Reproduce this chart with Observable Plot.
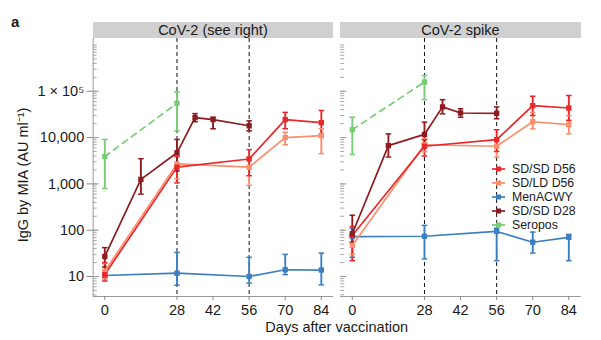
<!DOCTYPE html>
<html>
<head>
<meta charset="utf-8">
<script src="https://cdn.jsdelivr.net/npm/d3@7"></script>
<script src="https://cdn.jsdelivr.net/npm/@observablehq/plot@0.6"></script>
<style>
  html, body { margin: 0; padding: 0; background: #fff; }
  #wrap { position: relative; width: 601px; height: 340px; font-family: "Liberation Sans", Arial, Helvetica, sans-serif; color: #1a1a1a; }
  .ov { position: absolute; white-space: nowrap; }
  .strip { position: absolute; background: #d0d0d0; text-align: center; font-size: 14.5px; line-height: 16px; }
  .leg { position: absolute; font-size: 12.3px; line-height: 14px; }
  .leg div { height: 14px; display: flex; align-items: center; }
  .leg svg { margin-right: 6px; }
</style>
</head>
<body>
<div id="wrap"></div>
<script>
// ---- data ----
const panels = ["CoV-2 (see right)", "CoV-2 spike"];
const seriesNames = ["SD/SD D56", "SD/LD D56", "MenACWY", "SD/SD D28", "Seropos"];
const seriesColors = ["#e8282b", "#fb8e6e", "#3b7fc0", "#8c1c1f", "#78cc74"];
const drawOrder = ["MenACWY", "SD/LD D56", "SD/SD D56", "SD/SD D28", "Seropos"];

const days = {
  "SD/SD D56": [0, 28, 56, 70, 84],
  "SD/LD D56": [0, 28, 56, 70, 84],
  "MenACWY":   [0, 28, 56, 70, 84],
  "SD/SD D28": [0, 14, 28, 35, 42, 56],
  "Seropos":   [0, 28]
};

// panel 1: CoV-2 (see right)
const cov2Mean = {
  "SD/SD D56": [11, 2300, 3450, 24500, 21000],
  "SD/LD D56": [13, 2700, 2300, 10000, 11000],
  "MenACWY":   [10.5, 11.8, 10, 14, 13.8],
  "SD/SD D28": [27, 1250, 4700, 27000, 24500, 18000],
  "Seropos":   [3900, 55000]
};
const cov2Lo = {
  "SD/SD D56": [8, 1050, 1500, 15500, 12000],
  "SD/LD D56": [9, 1300, 930, 7000, 4500],
  "MenACWY":   [9, 6.5, 7.2, 11, 6.6],
  "SD/SD D28": [16, 600, 1900, 22000, 15500, 14000],
  "Seropos":   [800, 14000]
};
const cov2Hi = {
  "SD/SD D56": [20, 3900, 5500, 35000, 38500],
  "SD/LD D56": [19, 4200, 3800, 13000, 15500],
  "MenACWY":   [12, 33, 26, 30, 32],
  "SD/SD D28": [42, 3500, 9100, 33000, 27500, 23000],
  "Seropos":   [9100, 96000]
};

// panel 2: CoV-2 spike
const spikeMean = {
  "SD/SD D56": [77, 6500, 9000, 49000, 43500],
  "SD/LD D56": [47, 7000, 6500, 22000, 19000],
  "MenACWY":   [73, 74, 94, 55, 70],
  "SD/SD D28": [84, 6700, 11700, 46000, 34000, 33500],
  "Seropos":   [14800, 158000]
};
const spikeLo = {
  "SD/SD D56": [22, 4000, 5000, 30000, 23500],
  "SD/LD D56": [30, 5000, 3800, 15500, 12000],
  "MenACWY":   [26, 24, 22, 32, 22],
  "SD/SD D28": [55, 3800, 7400, 32500, 27500, 25500],
  "Seropos":   [4300, 66000]
};
const spikeHi = {
  "SD/SD D56": [120, 9000, 14800, 78000, 81000],
  "SD/LD D56": [75, 9500, 9000, 35000, 30000],
  "MenACWY":   [110, 127, 110, 91, 81],
  "SD/SD D28": [210, 12000, 21500, 66000, 42000, 46000],
  "Seropos":   [27500, 220000]
};

const yMajorTicks = [10, 100, 1000, 10000, 100000];
const yMajorLabels = ["10", "100", "1,000", "10,000", "1 × 10⁵"];
const xTicks = [0, 28, 42, 56, 70, 84];
const vaccinationDays = [28, 56];
const xDomain = [-4.5, 88.8];
const yDomain = [3.7, 1.38e6];

// ---- table ----
const table = [];
[[cov2Mean, cov2Lo, cov2Hi], [spikeMean, spikeLo, spikeHi]].forEach(([m, lo, hi], pi) => {
  drawOrder.forEach(s => {
    days[s].forEach((d, i) => {
      table.push({panel: panels[pi], series: s, day: d, mean: m[s][i], lo: lo[s][i], hi: hi[s][i]});
    });
  });
});
const minorTicks = [];
for (let e = 0; e <= 6; e++) for (let k = 1; k <= 9; k++) {
  const v = k * 10 ** e;
  if (v >= yDomain[0] && v <= yDomain[1]) minorTicks.push(v);
}

const capSymbol = { draw(ctx, size) { const r = Math.sqrt(size / Math.PI); ctx.moveTo(-r, 0); ctx.lineTo(r, 0); } };
const solid = table.filter(d => d.series !== "Seropos");
const dashed = table.filter(d => d.series === "Seropos");

const W = 601, H = 340;
const plot = Plot.plot({
  width: W, height: H,
  marginLeft: 92.7, marginRight: 20.3, marginTop: 38, marginBottom: 44,
  style: {fontFamily: "'Liberation Sans', Arial, Helvetica, sans-serif", fontSize: "14.5px", color: "#1a1a1a", background: "transparent"},
  fx: {domain: panels, paddingInner: 0.0283, paddingOuter: 0, round: false, axis: null, label: null},
  x: {domain: xDomain, label: null},
  y: {type: "log", domain: yDomain, label: null},
  color: {domain: seriesNames, range: seriesColors},
  marks: [
    Plot.ruleY([yDomain[0]], {stroke: "#9a9a9a", strokeWidth: 1}),
    Plot.ruleX([{panel: panels[0], x: xDomain[0]}], {x: "x", fx: "panel", stroke: "#9a9a9a", strokeWidth: 1}),
    Plot.axisY({ticks: minorTicks, tickSize: -4, tickFormat: () => "", facetAnchor: null, stroke: "#a8a8a8", label: null}),
    Plot.axisY({ticks: yMajorTicks, tickSize: -6, tickFormat: () => "", facetAnchor: null, stroke: "#999", label: null}),
    Plot.axisY({ticks: yMajorTicks, tickSize: 6, tickPadding: 3, tickFormat: d => yMajorLabels[yMajorTicks.indexOf(d)], stroke: "#888", label: null}),
    Plot.axisX({ticks: xTicks, tickSize: 4, tickPadding: 4, stroke: "#888", label: null}),
    Plot.ruleX(vaccinationDays, {stroke: "#111", strokeWidth: 1, strokeDasharray: "4,3"}),
    Plot.ruleX(table, {x: "day", y1: "lo", y2: "hi", stroke: "series", fx: "panel", strokeWidth: 1.9}),
    Plot.dot(table, {x: "day", y: "lo", symbol: capSymbol, r: 2.8, stroke: "series", fx: "panel", strokeWidth: 1.5}),
    Plot.dot(table, {x: "day", y: "hi", symbol: capSymbol, r: 2.8, stroke: "series", fx: "panel", strokeWidth: 1.5}),
    Plot.line(solid, {x: "day", y: "mean", z: "series", stroke: "series", fx: "panel", strokeWidth: 1.7}),
    Plot.line(dashed, {x: "day", y: "mean", z: "series", stroke: "series", fx: "panel", strokeWidth: 1.7, strokeDasharray: "6,5"}),
    Plot.dot(table, {x: "day", y: "mean", symbol: "square", fill: "series", r: 3, fx: "panel"})
  ]
});
plot.style.position = "absolute";
plot.style.left = "0px";
plot.style.top = "0px";
const wrap = document.getElementById("wrap");
wrap.appendChild(plot);

// strips from the fx scale
const fx = plot.scale("fx");
panels.forEach(p => {
  const s = document.createElement("div");
  s.className = "strip";
  s.style.left = fx.apply(p) + "px";
  s.style.width = fx.bandwidth + "px";
  s.style.top = "22px";
  s.style.height = "16px";
  s.textContent = p;
  wrap.appendChild(s);
});

// panel letter
const a = document.createElement("div");
a.className = "ov";
a.style.left = "11px"; a.style.top = "13px";
a.style.fontWeight = "bold"; a.style.fontSize = "15px";
a.textContent = "a";
wrap.appendChild(a);

// x title
const xt = document.createElement("div");
xt.className = "ov";
xt.style.left = "92.7px"; xt.style.width = (W - 92.7 - 20.3) + "px";
xt.style.textAlign = "center"; xt.style.top = "319px"; xt.style.fontSize = "14.5px";
xt.textContent = "Days after vaccination";
wrap.appendChild(xt);

// y title
const yt = document.createElement("div");
yt.className = "ov";
yt.style.fontSize = "14.5px";
yt.style.left = "22px"; yt.style.top = "175px";
yt.style.transform = "translate(-50%, -50%) rotate(-90deg)";
yt.textContent = "IgG by MIA (AU ml⁻¹)";
wrap.appendChild(yt);

// legend
const leg = document.createElement("div");
leg.className = "leg";
leg.style.left = "492px"; leg.style.top = "162px";
seriesNames.forEach((s, i) => {
  const row = document.createElement("div");
  const c = seriesColors[i];
  row.innerHTML = `<svg width="14" height="10"><line x1="0" x2="13" y1="5" y2="5" stroke="${c}" stroke-width="1.7"/><rect x="4" y="2.5" width="5" height="5" fill="${c}"/></svg><span>${s}</span>`;
  leg.appendChild(row);
});
wrap.appendChild(leg);
</script>
</body>
</html>
